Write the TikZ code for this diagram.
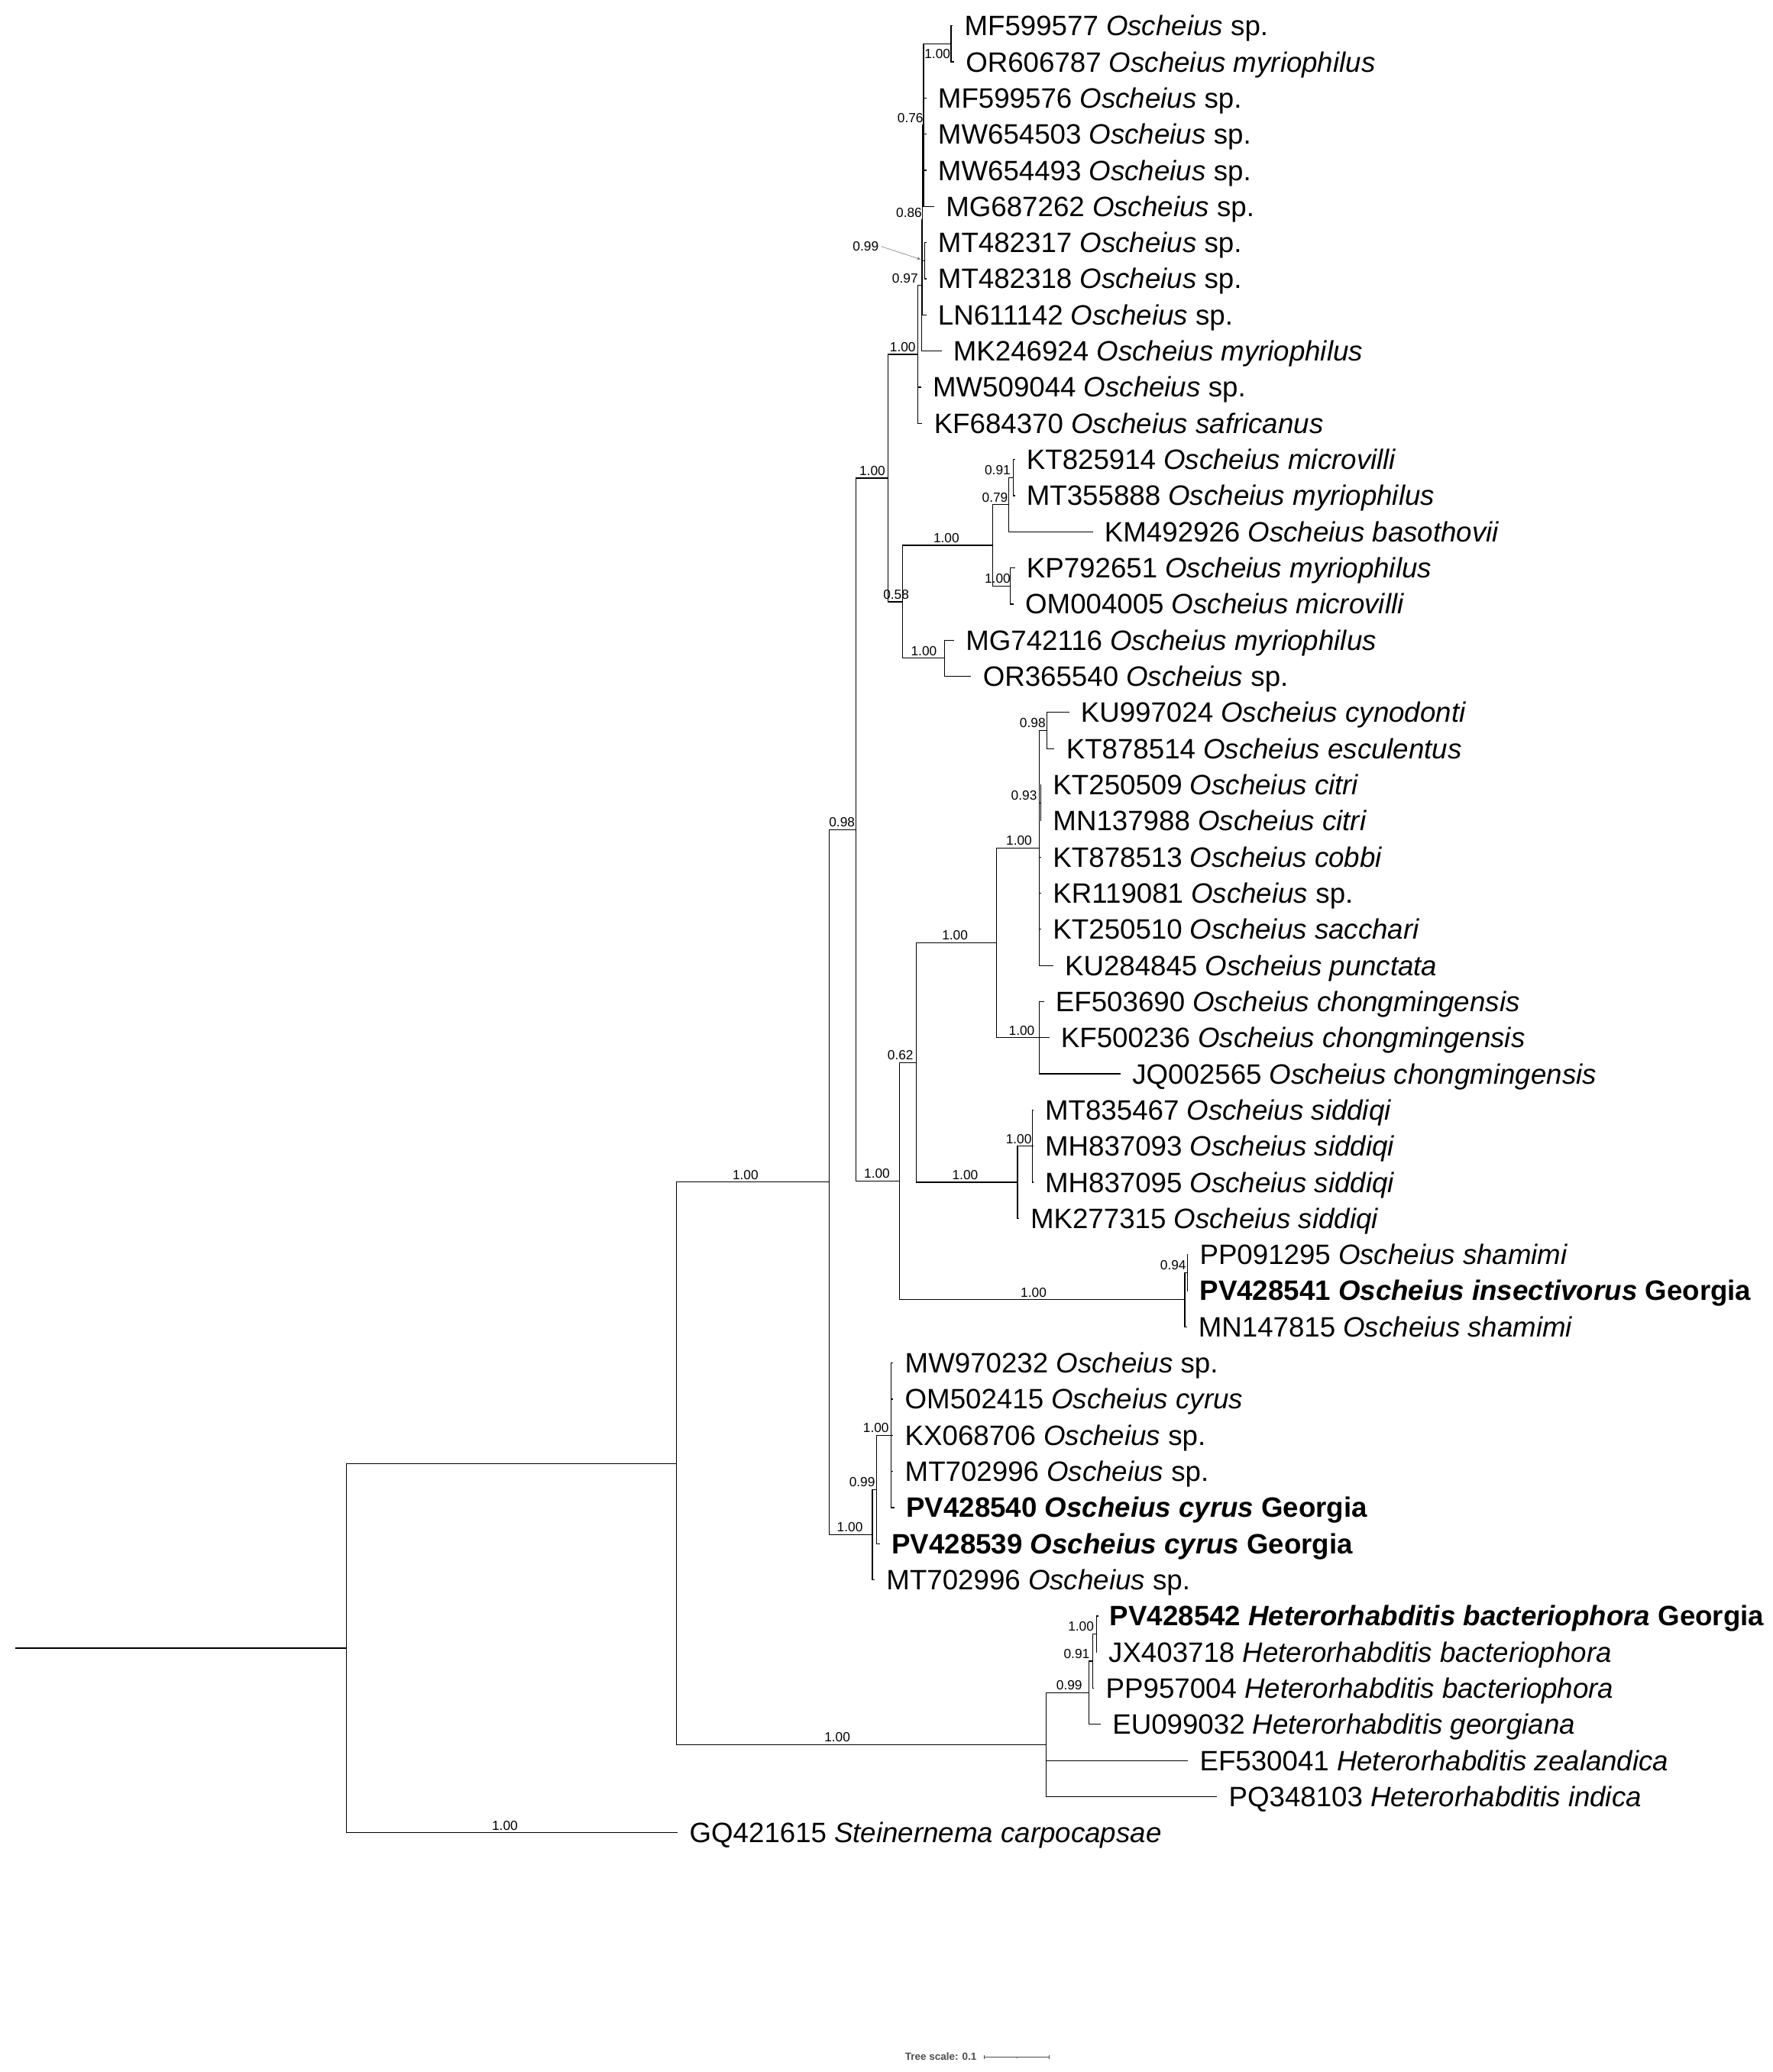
\documentclass[tikz,border=0pt]{standalone}
\usepackage{fontspec}
\setmainfont{Liberation Sans}
\usetikzlibrary{positioning,arrows.meta}

\begin{document}
\begin{tikzpicture}[
      x=1pt, y=-1pt,
      br/.style={line width=0.7pt, line cap=rect},
      tip/.style={anchor=west, inner sep=0pt, outer xsep=9.2pt, text height=15pt, text depth=0pt, font=\fontsize{21.2}{25}\selectfont},
      bs/.style={inner sep=1.8pt, font=\fontsize{10}{12}\selectfont},
      ann/.style={draw=black!60, line width=0.3pt, -{Stealth[length=3pt,width=2pt]}},
      scl/.style={inner sep=0pt, text=black!70, font=\fontsize{7.8}{9}\selectfont\bfseries},
    ]
    \useasboundingbox (0,0) rectangle (1341,1568);

    % Internal nodes
    \coordinate (root) at (12,1247.24);
    \coordinate (n1) at (262,1247.24);
    \coordinate (n2) at (512,1107.47);
    \coordinate (n3) at (627.2,894.6);
    \coordinate (n4) at (647.6,627.83);
    \coordinate (n5) at (672,361.8);
    \coordinate (n6) at (694.2,268.22);
    \coordinate (n7) at (697.1,216.08);
    \coordinate (n8) at (697.8,166.5);
    \coordinate (n9) at (698.8,94.71);
    \coordinate (n10) at (719.6,33.18);
    \coordinate (n11) at (699.6,197.28);
    \coordinate (n12) at (682.7,455.39);
    \coordinate (n13) at (751,412.66);
    \coordinate (n14) at (763.4,381.89);
    \coordinate (n15) at (766.8,361.38);
    \coordinate (n16) at (764.5,443.43);
    \coordinate (n17) at (714.8,498.13);
    \coordinate (n18) at (680.5,893.85);
    \coordinate (n19) at (693.2,804.1);
    \coordinate (n20) at (753.9,713.51);
    \coordinate (n21) at (786.5,641.71);
    \coordinate (n22) at (791.9,552.83);
    \coordinate (n23) at (787.5,607.53);
    \coordinate (nch) at (786.5,785.3);
    \coordinate (nsid) at (769.8,894.7);
    \coordinate (nsid2) at (781.3,867.35);
    \coordinate (nsha) at (896.4,983.59);
    \coordinate (nsha2) at (898.2,963.08);
    \coordinate (ncy) at (660,1161.36);
    \coordinate (ncy2) at (663.2,1127.18);
    \coordinate (ncy3) at (674,1086.15);
    \coordinate (nhet) at (791.5,1320.34);
    \coordinate (nh1) at (823.7,1281.02);
    \coordinate (nh2) at (826.6,1257.09);
    \coordinate (nh3) at (829.5,1236.58);

    % Tips
    \node[tip] (t0) at (720.5,19.5) {MF599577 \textit{Oscheius} sp.};
    \node[tip] (t1) at (721.5,46.85) {OR606787 \textit{Oscheius myriophilus}};
    \node[tip] (t2) at (700.5,74.2) {MF599576 \textit{Oscheius} sp.};
    \node[tip] (t3) at (700.5,101.55) {MW654503 \textit{Oscheius} sp.};
    \node[tip] (t4) at (700.5,128.9) {MW654493 \textit{Oscheius} sp.};
    \node[tip] (t5) at (706.5,156.25) {MG687262 \textit{Oscheius} sp.};
    \node[tip] (t6) at (700.5,183.6) {MT482317 \textit{Oscheius} sp.};
    \node[tip] (t7) at (700.5,210.95) {MT482318 \textit{Oscheius} sp.};
    \node[tip] (t8) at (700.5,238.3) {LN611142 \textit{Oscheius} sp.};
    \node[tip] (t9) at (712,265.65) {MK246924 \textit{Oscheius myriophilus}};
    \node[tip] (t10) at (696.5,293) {MW509044 \textit{Oscheius} sp.};
    \node[tip] (t11) at (697.5,320.35) {KF684370 \textit{Oscheius safricanus}};
    \node[tip] (t12) at (767.5,347.7) {KT825914 \textit{Oscheius microvilli}};
    \node[tip] (t13) at (767.5,375.05) {MT355888 \textit{Oscheius myriophilus}};
    \node[tip] (t14) at (826.5,402.4) {KM492926 \textit{Oscheius basothovii}};
    \node[tip] (t15) at (767.5,429.75) {KP792651 \textit{Oscheius myriophilus}};
    \node[tip] (t16) at (766.5,457.1) {OM004005 \textit{Oscheius microvilli}};
    \node[tip] (t17) at (721.5,484.45) {MG742116 \textit{Oscheius myriophilus}};
    \node[tip] (t18) at (734.5,511.8) {OR365540 \textit{Oscheius} sp.};
    \node[tip] (t19) at (808.5,539.15) {KU997024 \textit{Oscheius cynodonti}};
    \node[tip] (t20) at (797.5,566.5) {KT878514 \textit{Oscheius esculentus}};
    \node[tip] (t21) at (787.5,593.85) {KT250509 \textit{Oscheius citri}};
    \node[tip] (t22) at (787.5,621.2) {MN137988 \textit{Oscheius citri}};
    \node[tip] (t23) at (787.5,648.55) {KT878513 \textit{Oscheius cobbi}};
    \node[tip] (t24) at (787.5,675.9) {KR119081 \textit{Oscheius} sp.};
    \node[tip] (t25) at (787.5,703.25) {KT250510 \textit{Oscheius sacchari}};
    \node[tip] (t26) at (796.5,730.6) {KU284845 \textit{Oscheius punctata}};
    \node[tip] (t27) at (789.5,757.95) {EF503690 \textit{Oscheius chongmingensis}};
    \node[tip] (t28) at (793.5,785.3) {KF500236 \textit{Oscheius chongmingensis}};
    \node[tip] (t29) at (847.5,812.65) {JQ002565 \textit{Oscheius chongmingensis}};
    \node[tip] (t30) at (781.5,840) {MT835467 \textit{Oscheius siddiqi}};
    \node[tip] (t31) at (781.5,867.35) {MH837093 \textit{Oscheius siddiqi}};
    \node[tip] (t32) at (781.5,894.7) {MH837095 \textit{Oscheius siddiqi}};
    \node[tip] (t33) at (770.5,922.05) {MK277315 \textit{Oscheius siddiqi}};
    \node[tip] (t34) at (898.5,949.4) {PP091295 \textit{Oscheius shamimi}};
    \node[tip] (t35) at (898.5,976.75) {\textbf{PV428541 \textit{Oscheius insectivorus} Georgia}};
    \node[tip] (t36) at (897.5,1004.1) {MN147815 \textit{Oscheius shamimi}};
    \node[tip] (t37) at (675.5,1031.45) {MW970232 \textit{Oscheius} sp.};
    \node[tip] (t38) at (675.5,1058.8) {OM502415 \textit{Oscheius cyrus}};
    \node[tip] (t39) at (675.5,1086.15) {KX068706 \textit{Oscheius} sp.};
    \node[tip] (t40) at (675.5,1113.5) {MT702996 \textit{Oscheius} sp.};
    \node[tip] (t41) at (676.5,1140.85) {\textbf{PV428540 \textit{Oscheius cyrus} Georgia}};
    \node[tip] (t42) at (665.5,1168.2) {\textbf{PV428539 \textit{Oscheius cyrus} Georgia}};
    \node[tip] (t43) at (661.5,1195.55) {MT702996 \textit{Oscheius} sp.};
    \node[tip] (t44) at (830.5,1222.9) {\textbf{PV428542 \textit{Heterorhabditis bacteriophora} Georgia}};
    \node[tip] (t45) at (829.5,1250.25) {JX403718 \textit{Heterorhabditis bacteriophora}};
    \node[tip] (t46) at (827.5,1277.6) {PP957004 \textit{Heterorhabditis bacteriophora}};
    \node[tip] (t47) at (832.5,1304.95) {EU099032 \textit{Heterorhabditis georgiana}};
    \node[tip] (t48) at (898.5,1332.3) {EF530041 \textit{Heterorhabditis zealandica}};
    \node[tip] (t49) at (920.5,1359.65) {PQ348103 \textit{Heterorhabditis indica}};
    \node[tip] (t50) at (512.5,1387) {GQ421615 \textit{Steinernema carpocapsae}};

    % Branches
    \draw[br] (root) -- (n1);
    \draw[br] (n1) |- (n2);
    \draw[br] (n1) |- (t50);
    \draw[br] (n2) |- (n3);
    \draw[br] (n2) |- (nhet);
    \draw[br] (n3) |- (n4);
    \draw[br] (n3) |- (ncy);
    \draw[br] (n4) |- (n5);
    \draw[br] (n4) |- (n18);
    \draw[br] (n5) |- (n6);
    \draw[br] (n5) |- (n12);
    \draw[br] (n6) |- (n7);
    \draw[br] (n6) |- (t10);
    \draw[br] (n6) |- (t11);
    \draw[br] (n7) |- (n8);
    \draw[br] (n7) |- (t9);
    \draw[br] (n8) |- (n9);
    \draw[br] (n8) |- (n11);
    \draw[br] (n8) |- (t8);
    \draw[br] (n9) |- (n10);
    \draw[br] (n9) |- (t2);
    \draw[br] (n9) |- (t3);
    \draw[br] (n9) |- (t4);
    \draw[br] (n9) |- (t5);
    \draw[br] (n10) |- (t0);
    \draw[br] (n10) |- (t1);
    \draw[br] (n11) |- (t6);
    \draw[br] (n11) |- (t7);
    \draw[br] (n12) |- (n13);
    \draw[br] (n12) |- (n17);
    \draw[br] (n13) |- (n14);
    \draw[br] (n13) |- (n16);
    \draw[br] (n14) |- (n15);
    \draw[br] (n14) |- (t14);
    \draw[br] (n15) |- (t12);
    \draw[br] (n15) |- (t13);
    \draw[br] (n16) |- (t15);
    \draw[br] (n16) |- (t16);
    \draw[br] (n17) |- (t17);
    \draw[br] (n17) |- (t18);
    \draw[br] (n18) |- (n19);
    \draw[br] (n18) |- (nsha);
    \draw[br] (n19) |- (n20);
    \draw[br] (n19) |- (nsid);
    \draw[br] (n20) |- (n21);
    \draw[br] (n20) |- (nch);
    \draw[br] (n21) |- (n22);
    \draw[br] (n21) |- (n23);
    \draw[br] (n21) |- (t23);
    \draw[br] (n21) |- (t24);
    \draw[br] (n21) |- (t25);
    \draw[br] (n21) |- (t26);
    \draw[br] (n22) |- (t19);
    \draw[br] (n22) |- (t20);
    \draw[br] (n23) |- (t21);
    \draw[br] (n23) |- (t22);
    \draw[br] (nch) |- (t27);
    \draw[br] (nch) |- (t28);
    \draw[br] (nch) |- (t29);
    \draw[br] (nsid) |- (nsid2);
    \draw[br] (nsid) |- (t33);
    \draw[br] (nsid2) |- (t30);
    \draw[br] (nsid2) |- (t31);
    \draw[br] (nsid2) |- (t32);
    \draw[br] (nsha) |- (nsha2);
    \draw[br] (nsha) |- (t36);
    \draw[br] (nsha2) |- (t34);
    \draw[br] (nsha2) |- (t35);
    \draw[br] (ncy) |- (ncy2);
    \draw[br] (ncy) |- (t43);
    \draw[br] (ncy2) |- (ncy3);
    \draw[br] (ncy2) |- (t42);
    \draw[br] (ncy3) |- (t37);
    \draw[br] (ncy3) |- (t38);
    \draw[br] (ncy3) |- (t39);
    \draw[br] (ncy3) |- (t40);
    \draw[br] (ncy3) |- (t41);
    \draw[br] (nhet) |- (nh1);
    \draw[br] (nhet) |- (t48);
    \draw[br] (nhet) |- (t49);
    \draw[br] (nh1) |- (nh2);
    \draw[br] (nh1) |- (t47);
    \draw[br] (nh2) |- (nh3);
    \draw[br] (nh2) |- (t46);
    \draw[br] (nh3) |- (t44);
    \draw[br] (nh3) |- (t45);

    % Support values
    \node[bs, anchor=north east] (s10) at (721,35.5) {1.00};
    \node[bs, anchor=south east] (s9) at (700.5,94.71) {0.76};
    \node[bs, anchor=south east] (s8) at (699.5,166.5) {0.86};
    \node[bs] (s11) at (655,186.5) {0.99};
    \node[bs, anchor=south east] (s7) at (696.5,216.08) {0.97};
    \node[bs, anchor=south] (s6) at (683,268.22) {1.00};
    \node[bs, anchor=south] (s5) at (660,361.8) {1.00};
    \node[bs, anchor=south] (s12) at (678,455.39) {0.58};
    \node[bs, anchor=south] (s13) at (716,412.66) {1.00};
    \node[bs, anchor=south east] (s14) at (764.5,381.89) {0.79};
    \node[bs, anchor=south east] (s15) at (766.5,361.38) {0.91};
    \node[bs, anchor=south east] (s16) at (766.5,443.43) {1.00};
    \node[bs, anchor=south] (s17) at (699,498.13) {1.00};
    \node[bs, anchor=south] (s4) at (637,627.83) {0.98};
    \node[bs, anchor=south] (s18) at (663.5,893.85) {1.00};
    \node[bs, anchor=south east] (s19) at (693,804.1) {0.62};
    \node[bs, anchor=south] (s20) at (722.5,713.51) {1.00};
    \node[bs, anchor=south] (s21) at (771,641.71) {1.00};
    \node[bs, anchor=south east] (s22) at (793,552.83) {0.98};
    \node[bs, anchor=south east] (s23) at (786.5,607.53) {0.93};
    \node[bs, anchor=south] (sch) at (773,785.3) {1.00};
    \node[bs, anchor=south] (ssid) at (730.2,894.7) {1.00};
    \node[bs, anchor=south east] (ssid2) at (782.5,867.35) {1.00};
    \node[bs, anchor=south] (ssha) at (782,983.59) {1.00};
    \node[bs, anchor=south east] (ssha2) at (899.3,963.08) {0.94};
    \node[bs, anchor=south] (s3) at (564,894.6) {1.00};
    \node[bs, anchor=south] (scy) at (643,1161.36) {1.00};
    \node[bs, anchor=south east] (scy2) at (664,1127.18) {0.99};
    \node[bs, anchor=south east] (scy3) at (674.5,1086.15) {1.00};
    \node[bs, anchor=south] (shet) at (633.5,1320.34) {1.00};
    \node[bs, anchor=south] (sh1) at (809,1281.02) {0.99};
    \node[bs, anchor=south east] (sh2) at (826.3,1257.09) {0.91};
    \node[bs, anchor=south east] (sh3) at (829.6,1236.58) {1.00};
    \node[bs, anchor=south] (sst) at (382,1387) {1.00};

    % Pointer for the 0.99 value
    \draw[ann, shorten >=3pt] (s11.east) -- (n11);

    % Tree scale
    \node[scl, anchor=east] (tscale) at (739,1556.5) {Tree scale: 0.1};
    \coordinate (sb1) at (744.5,1556.5);
    \coordinate (sb2) at (794,1556.5);
    \coordinate (sbm) at (769.3,1556.5);
    \draw[black!70, line width=0.5pt, {Bar[width=3pt]}-{Bar[width=3pt]}] (sb1) -- (sb2);
    \draw[black!70, line width=0.5pt] (sbm) -- ++(0,1.2);
  \end{tikzpicture}
\end{document}
